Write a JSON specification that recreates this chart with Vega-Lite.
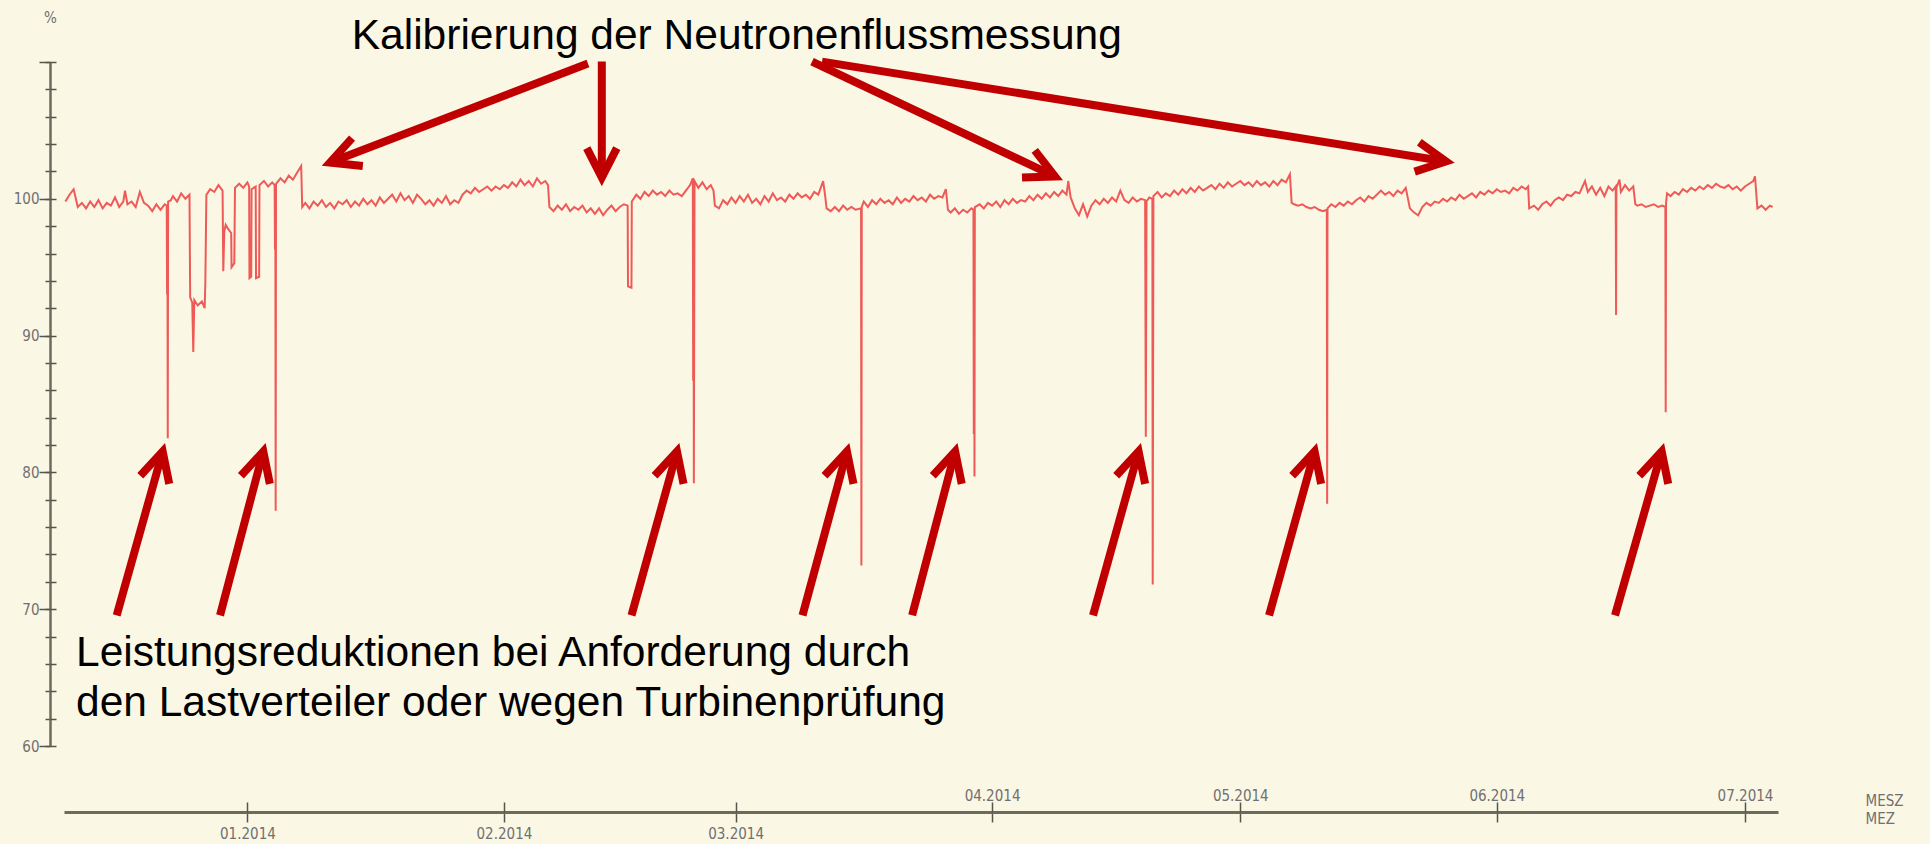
{
  "$schema": "https://vega.github.io/schema/vega-lite/v6.json",
  "width": 1714,
  "height": 684,
  "autosize": {"type": "none"},
  "padding": {"left": 64, "top": 62, "right": 152, "bottom": 98},
  "background": "#FBF7E5",
  "config": {
    "view": {"stroke": null},
    "axis": {
      "grid": false,
      "labelFont": "Liberation Sans Narrow, DejaVu Sans Condensed, sans-serif",
      "labelFontSize": 15,
      "labelColor": "#707070",
      "titleFont": "Liberation Sans Narrow, DejaVu Sans Condensed, sans-serif",
      "titleFontSize": 15,
      "titleFontWeight": "normal",
      "titleColor": "#707070",
      "domainColor": "#6b6b5e",
      "tickColor": "#55554a",
      "labelOverlap": false,
      "labelFlush": false
    }
  },
  "datasets": {
    "flux": [
      {"t":"2013-12-10T00:00","v":99.8},{"t":"2013-12-10T12:00","v":100.3},{"t":"2013-12-11T00:00","v":100.7},{"t":"2013-12-11T12:00","v":99.4},
      {"t":"2013-12-12T00:00","v":99.7},{"t":"2013-12-12T12:00","v":99.3},{"t":"2013-12-13T00:00","v":99.8},{"t":"2013-12-13T12:00","v":99.4},
      {"t":"2013-12-14T00:00","v":99.9},{"t":"2013-12-14T12:00","v":99.3},{"t":"2013-12-15T00:00","v":99.7},{"t":"2013-12-15T12:00","v":99.5},
      {"t":"2013-12-16T00:00","v":100.1},{"t":"2013-12-16T12:00","v":99.4},{"t":"2013-12-17T00:00","v":99.8},{"t":"2013-12-17T05:00","v":100.6},
      {"t":"2013-12-17T12:00","v":99.6},{"t":"2013-12-18T00:00","v":99.8},{"t":"2013-12-18T12:00","v":99.4},{"t":"2013-12-19T00:00","v":100.5},
      {"t":"2013-12-19T12:00","v":99.7},{"t":"2013-12-20T00:00","v":99.5},{"t":"2013-12-20T12:00","v":99.1},{"t":"2013-12-21T00:00","v":99.6},
      {"t":"2013-12-21T12:00","v":99.2},{"t":"2013-12-22T00:00","v":99.6},{"t":"2013-12-22T06:00","v":99.5},{"t":"2013-12-22T07:00","v":93.0},
      {"t":"2013-12-22T08:00","v":99.5},{"t":"2013-12-22T09:00","v":82.5},{"t":"2013-12-22T10:00","v":99.8},{"t":"2013-12-22T18:00","v":99.9},
      {"t":"2013-12-23T00:00","v":100.2},{"t":"2013-12-23T12:00","v":99.8},{"t":"2013-12-24T00:00","v":100.4},{"t":"2013-12-24T12:00","v":100.0},
      {"t":"2013-12-25T00:00","v":100.3},{"t":"2013-12-25T02:00","v":92.8},{"t":"2013-12-25T08:00","v":92.4},{"t":"2013-12-25T11:00","v":88.8},
      {"t":"2013-12-25T14:00","v":92.6},{"t":"2013-12-26T00:00","v":92.2},{"t":"2013-12-26T12:00","v":92.5},{"t":"2013-12-26T20:00","v":92.0},
      {"t":"2013-12-26T22:00","v":93.9},{"t":"2013-12-27T01:00","v":100.3},{"t":"2013-12-27T12:00","v":100.7},{"t":"2013-12-28T00:00","v":100.5},
      {"t":"2013-12-28T12:00","v":101.0},{"t":"2013-12-29T00:00","v":100.6},{"t":"2013-12-29T02:00","v":94.7},{"t":"2013-12-29T05:00","v":97.6},
      {"t":"2013-12-29T09:00","v":98.1},{"t":"2013-12-29T16:00","v":97.8},{"t":"2013-12-30T01:00","v":97.5},{"t":"2013-12-30T02:00","v":95.0},
      {"t":"2013-12-30T10:00","v":95.3},{"t":"2013-12-30T12:00","v":100.8},{"t":"2013-12-31T00:00","v":101.1},{"t":"2013-12-31T12:00","v":100.8},
      {"t":"2014-01-01T00:00","v":101.2},{"t":"2014-01-01T05:00","v":100.9},{"t":"2014-01-01T06:00","v":94.2},{"t":"2014-01-01T11:00","v":94.3},
      {"t":"2014-01-01T12:00","v":100.7},{"t":"2014-01-02T00:00","v":100.9},{"t":"2014-01-02T01:00","v":94.2},{"t":"2014-01-02T10:00","v":94.3},
      {"t":"2014-01-02T11:00","v":101.0},{"t":"2014-01-03T00:00","v":101.3},{"t":"2014-01-03T12:00","v":100.9},{"t":"2014-01-04T00:00","v":101.2},
      {"t":"2014-01-04T07:00","v":101.0},{"t":"2014-01-04T08:00","v":96.3},{"t":"2014-01-04T09:00","v":100.8},{"t":"2014-01-04T10:00","v":77.2},
      {"t":"2014-01-04T11:00","v":101.1},{"t":"2014-01-05T00:00","v":101.5},{"t":"2014-01-05T12:00","v":101.2},{"t":"2014-01-06T00:00","v":101.7},
      {"t":"2014-01-06T12:00","v":101.4},{"t":"2014-01-07T00:00","v":101.9},{"t":"2014-01-07T12:00","v":102.4},{"t":"2014-01-07T15:00","v":99.4},
      {"t":"2014-01-08T00:00","v":99.7},{"t":"2014-01-08T12:00","v":99.3},{"t":"2014-01-09T00:00","v":99.8},{"t":"2014-01-09T12:00","v":99.5},
      {"t":"2014-01-10T00:00","v":99.9},{"t":"2014-01-10T12:00","v":99.4},{"t":"2014-01-11T00:00","v":99.7},{"t":"2014-01-11T12:00","v":99.3},
      {"t":"2014-01-12T00:00","v":99.8},{"t":"2014-01-12T12:00","v":99.6},{"t":"2014-01-13T00:00","v":99.9},{"t":"2014-01-13T12:00","v":99.4},
      {"t":"2014-01-14T00:00","v":99.8},{"t":"2014-01-14T12:00","v":99.5},{"t":"2014-01-15T00:00","v":100.0},{"t":"2014-01-15T12:00","v":99.6},
      {"t":"2014-01-16T00:00","v":99.9},{"t":"2014-01-16T12:00","v":99.5},{"t":"2014-01-17T00:00","v":100.1},{"t":"2014-01-17T12:00","v":99.7},
      {"t":"2014-01-18T00:00","v":100.0},{"t":"2014-01-18T12:00","v":100.3},{"t":"2014-01-19T00:00","v":99.8},{"t":"2014-01-19T12:00","v":100.4},
      {"t":"2014-01-20T00:00","v":99.9},{"t":"2014-01-20T12:00","v":100.2},{"t":"2014-01-21T00:00","v":99.7},{"t":"2014-01-21T12:00","v":100.3},
      {"t":"2014-01-22T00:00","v":100.0},{"t":"2014-01-22T12:00","v":99.6},{"t":"2014-01-23T00:00","v":99.9},{"t":"2014-01-23T12:00","v":99.5},
      {"t":"2014-01-24T00:00","v":100.0},{"t":"2014-01-24T12:00","v":99.7},{"t":"2014-01-25T00:00","v":100.2},{"t":"2014-01-25T12:00","v":99.6},
      {"t":"2014-01-26T00:00","v":99.9},{"t":"2014-01-26T12:00","v":99.7},{"t":"2014-01-27T00:00","v":100.3},{"t":"2014-01-27T12:00","v":100.6},
      {"t":"2014-01-28T00:00","v":100.4},{"t":"2014-01-28T12:00","v":100.8},{"t":"2014-01-29T00:00","v":100.5},{"t":"2014-01-29T12:00","v":100.7},
      {"t":"2014-01-30T00:00","v":100.9},{"t":"2014-01-30T12:00","v":100.6},{"t":"2014-01-31T00:00","v":100.9},{"t":"2014-01-31T12:00","v":100.7},
      {"t":"2014-02-01T00:00","v":101.0},{"t":"2014-02-01T12:00","v":100.8},{"t":"2014-02-02T00:00","v":101.2},{"t":"2014-02-02T12:00","v":100.9},
      {"t":"2014-02-03T00:00","v":101.4},{"t":"2014-02-03T12:00","v":101.0},{"t":"2014-02-04T00:00","v":101.3},{"t":"2014-02-04T12:00","v":100.9},
      {"t":"2014-02-05T00:00","v":101.5},{"t":"2014-02-05T12:00","v":101.1},{"t":"2014-02-06T00:00","v":101.3},{"t":"2014-02-06T08:00","v":101.0},
      {"t":"2014-02-06T12:00","v":99.4},{"t":"2014-02-07T00:00","v":99.1},{"t":"2014-02-07T12:00","v":99.5},{"t":"2014-02-08T00:00","v":99.2},
      {"t":"2014-02-08T12:00","v":99.6},{"t":"2014-02-09T00:00","v":99.1},{"t":"2014-02-09T12:00","v":99.4},{"t":"2014-02-10T00:00","v":99.2},
      {"t":"2014-02-10T12:00","v":99.5},{"t":"2014-02-11T00:00","v":99.0},{"t":"2014-02-11T12:00","v":99.3},{"t":"2014-02-12T00:00","v":98.9},
      {"t":"2014-02-12T12:00","v":99.3},{"t":"2014-02-13T00:00","v":98.8},{"t":"2014-02-13T12:00","v":99.2},{"t":"2014-02-14T00:00","v":99.5},
      {"t":"2014-02-14T12:00","v":99.1},{"t":"2014-02-15T00:00","v":99.4},{"t":"2014-02-15T12:00","v":99.6},{"t":"2014-02-15T23:00","v":99.5},
      {"t":"2014-02-16T00:00","v":93.6},{"t":"2014-02-16T10:00","v":93.5},{"t":"2014-02-16T11:00","v":99.8},{"t":"2014-02-17T00:00","v":100.3},
      {"t":"2014-02-17T12:00","v":100.0},{"t":"2014-02-18T00:00","v":100.5},{"t":"2014-02-18T12:00","v":100.2},{"t":"2014-02-19T00:00","v":100.6},
      {"t":"2014-02-19T12:00","v":100.3},{"t":"2014-02-20T00:00","v":100.5},{"t":"2014-02-20T12:00","v":100.2},{"t":"2014-02-21T00:00","v":100.6},
      {"t":"2014-02-21T12:00","v":100.3},{"t":"2014-02-22T00:00","v":100.4},{"t":"2014-02-22T12:00","v":100.2},{"t":"2014-02-23T00:00","v":100.6},
      {"t":"2014-02-23T12:00","v":101.0},{"t":"2014-02-23T20:00","v":101.5},{"t":"2014-02-23T21:00","v":86.7},{"t":"2014-02-23T22:00","v":100.8},
      {"t":"2014-02-23T23:00","v":79.2},{"t":"2014-02-24T01:00","v":101.3},{"t":"2014-02-24T12:00","v":100.8},{"t":"2014-02-25T00:00","v":101.2},
      {"t":"2014-02-25T12:00","v":100.7},{"t":"2014-02-26T00:00","v":101.0},{"t":"2014-02-26T08:00","v":100.6},{"t":"2014-02-26T12:00","v":99.5},
      {"t":"2014-02-27T00:00","v":99.3},{"t":"2014-02-27T12:00","v":99.9},{"t":"2014-02-28T00:00","v":99.6},{"t":"2014-02-28T12:00","v":100.1},
      {"t":"2014-03-01T00:00","v":99.7},{"t":"2014-03-01T12:00","v":100.2},{"t":"2014-03-02T00:00","v":99.8},{"t":"2014-03-02T12:00","v":100.3},
      {"t":"2014-03-03T00:00","v":99.7},{"t":"2014-03-03T12:00","v":100.0},{"t":"2014-03-04T00:00","v":99.6},{"t":"2014-03-04T12:00","v":100.2},
      {"t":"2014-03-05T00:00","v":99.8},{"t":"2014-03-05T12:00","v":100.4},{"t":"2014-03-06T00:00","v":99.9},{"t":"2014-03-06T12:00","v":100.1},
      {"t":"2014-03-07T00:00","v":99.8},{"t":"2014-03-07T12:00","v":100.3},{"t":"2014-03-08T00:00","v":100.0},{"t":"2014-03-08T12:00","v":100.4},
      {"t":"2014-03-09T00:00","v":100.1},{"t":"2014-03-09T12:00","v":100.3},{"t":"2014-03-10T00:00","v":100.0},{"t":"2014-03-10T12:00","v":100.5},
      {"t":"2014-03-11T00:00","v":100.3},{"t":"2014-03-11T14:00","v":101.3},{"t":"2014-03-11T20:00","v":100.2},{"t":"2014-03-12T00:00","v":99.3},
      {"t":"2014-03-12T12:00","v":99.1},{"t":"2014-03-13T00:00","v":99.4},{"t":"2014-03-13T12:00","v":99.1},{"t":"2014-03-14T00:00","v":99.5},
      {"t":"2014-03-14T12:00","v":99.2},{"t":"2014-03-15T00:00","v":99.4},{"t":"2014-03-15T12:00","v":99.2},{"t":"2014-03-16T04:00","v":99.3},
      {"t":"2014-03-16T05:00","v":73.2},{"t":"2014-03-16T06:00","v":99.4},{"t":"2014-03-16T12:00","v":99.8},{"t":"2014-03-17T00:00","v":99.4},
      {"t":"2014-03-17T12:00","v":99.9},{"t":"2014-03-18T00:00","v":99.6},{"t":"2014-03-18T12:00","v":100.0},{"t":"2014-03-19T00:00","v":99.7},
      {"t":"2014-03-19T12:00","v":99.9},{"t":"2014-03-20T00:00","v":99.6},{"t":"2014-03-20T12:00","v":100.1},{"t":"2014-03-21T00:00","v":99.7},
      {"t":"2014-03-21T12:00","v":100.0},{"t":"2014-03-22T00:00","v":99.8},{"t":"2014-03-22T12:00","v":100.2},{"t":"2014-03-23T00:00","v":99.9},
      {"t":"2014-03-23T12:00","v":100.1},{"t":"2014-03-24T00:00","v":99.8},{"t":"2014-03-24T12:00","v":100.3},{"t":"2014-03-25T00:00","v":100.0},
      {"t":"2014-03-25T12:00","v":100.2},{"t":"2014-03-26T00:00","v":100.1},{"t":"2014-03-26T10:00","v":100.7},{"t":"2014-03-26T16:00","v":99.2},
      {"t":"2014-03-27T00:00","v":99.0},{"t":"2014-03-27T12:00","v":99.3},{"t":"2014-03-28T00:00","v":98.9},{"t":"2014-03-28T12:00","v":99.2},
      {"t":"2014-03-29T00:00","v":99.0},{"t":"2014-03-29T12:00","v":99.3},{"t":"2014-03-29T18:00","v":99.2},{"t":"2014-03-29T19:00","v":82.8},
      {"t":"2014-03-29T20:00","v":99.1},{"t":"2014-03-29T21:00","v":79.7},{"t":"2014-03-29T22:00","v":99.4},{"t":"2014-03-30T12:00","v":99.6},
      {"t":"2014-03-31T00:00","v":99.3},{"t":"2014-03-31T12:00","v":99.7},{"t":"2014-04-01T00:00","v":99.5},{"t":"2014-04-01T12:00","v":99.8},
      {"t":"2014-04-02T00:00","v":99.4},{"t":"2014-04-02T12:00","v":99.9},{"t":"2014-04-03T00:00","v":99.6},{"t":"2014-04-03T12:00","v":100.0},
      {"t":"2014-04-04T00:00","v":99.7},{"t":"2014-04-04T12:00","v":99.9},{"t":"2014-04-05T00:00","v":99.8},{"t":"2014-04-05T12:00","v":100.2},
      {"t":"2014-04-06T00:00","v":99.9},{"t":"2014-04-06T12:00","v":100.3},{"t":"2014-04-07T00:00","v":100.0},{"t":"2014-04-07T12:00","v":100.4},
      {"t":"2014-04-08T00:00","v":100.1},{"t":"2014-04-08T12:00","v":100.5},{"t":"2014-04-09T00:00","v":100.2},{"t":"2014-04-09T12:00","v":100.6},
      {"t":"2014-04-10T00:00","v":100.3},{"t":"2014-04-10T05:00","v":101.3},{"t":"2014-04-10T12:00","v":100.1},{"t":"2014-04-11T00:00","v":99.3},
      {"t":"2014-04-11T12:00","v":98.8},{"t":"2014-04-12T00:00","v":99.6},{"t":"2014-04-12T12:00","v":98.7},{"t":"2014-04-13T00:00","v":99.5},
      {"t":"2014-04-13T12:00","v":99.9},{"t":"2014-04-14T00:00","v":99.6},{"t":"2014-04-14T12:00","v":100.0},{"t":"2014-04-15T00:00","v":99.7},
      {"t":"2014-04-15T12:00","v":100.1},{"t":"2014-04-16T00:00","v":99.8},{"t":"2014-04-16T12:00","v":100.6},{"t":"2014-04-17T00:00","v":99.9},
      {"t":"2014-04-17T12:00","v":99.7},{"t":"2014-04-18T00:00","v":100.1},{"t":"2014-04-18T12:00","v":99.8},{"t":"2014-04-19T00:00","v":100.0},
      {"t":"2014-04-19T12:00","v":99.9},{"t":"2014-04-19T14:00","v":82.6},{"t":"2014-04-19T16:00","v":99.8},{"t":"2014-04-20T00:00","v":100.1},
      {"t":"2014-04-20T09:00","v":100.0},{"t":"2014-04-20T10:00","v":71.8},{"t":"2014-04-20T12:00","v":100.2},{"t":"2014-04-21T00:00","v":100.5},
      {"t":"2014-04-21T12:00","v":100.1},{"t":"2014-04-22T00:00","v":100.4},{"t":"2014-04-22T12:00","v":100.2},{"t":"2014-04-23T00:00","v":100.6},
      {"t":"2014-04-23T12:00","v":100.3},{"t":"2014-04-24T00:00","v":100.7},{"t":"2014-04-24T12:00","v":100.4},{"t":"2014-04-25T00:00","v":100.8},
      {"t":"2014-04-25T12:00","v":100.5},{"t":"2014-04-26T00:00","v":100.9},{"t":"2014-04-26T12:00","v":100.6},{"t":"2014-04-27T00:00","v":100.8},
      {"t":"2014-04-27T12:00","v":101.0},{"t":"2014-04-28T00:00","v":100.7},{"t":"2014-04-28T12:00","v":101.1},{"t":"2014-04-29T00:00","v":100.8},
      {"t":"2014-04-29T12:00","v":101.2},{"t":"2014-04-30T00:00","v":100.9},{"t":"2014-04-30T12:00","v":101.1},{"t":"2014-05-01T00:00","v":101.3},
      {"t":"2014-05-01T12:00","v":101.0},{"t":"2014-05-02T00:00","v":101.2},{"t":"2014-05-02T12:00","v":100.9},{"t":"2014-05-03T00:00","v":101.3},
      {"t":"2014-05-03T12:00","v":101.0},{"t":"2014-05-04T00:00","v":101.2},{"t":"2014-05-04T12:00","v":100.9},{"t":"2014-05-05T00:00","v":101.3},
      {"t":"2014-05-05T12:00","v":101.0},{"t":"2014-05-06T00:00","v":101.4},{"t":"2014-05-06T12:00","v":101.2},{"t":"2014-05-07T00:00","v":101.8},
      {"t":"2014-05-07T05:00","v":99.7},{"t":"2014-05-07T12:00","v":99.6},{"t":"2014-05-08T00:00","v":99.5},{"t":"2014-05-08T12:00","v":99.6},
      {"t":"2014-05-09T00:00","v":99.4},{"t":"2014-05-09T12:00","v":99.3},{"t":"2014-05-10T00:00","v":99.4},{"t":"2014-05-10T12:00","v":99.2},
      {"t":"2014-05-11T00:00","v":99.1},{"t":"2014-05-11T11:00","v":99.2},{"t":"2014-05-11T12:00","v":77.7},{"t":"2014-05-11T13:00","v":99.3},
      {"t":"2014-05-12T00:00","v":99.6},{"t":"2014-05-12T12:00","v":99.4},{"t":"2014-05-13T00:00","v":99.7},{"t":"2014-05-13T12:00","v":99.5},
      {"t":"2014-05-14T00:00","v":99.8},{"t":"2014-05-14T12:00","v":99.6},{"t":"2014-05-15T00:00","v":99.9},{"t":"2014-05-15T12:00","v":100.1},
      {"t":"2014-05-16T00:00","v":99.8},{"t":"2014-05-16T12:00","v":100.2},{"t":"2014-05-17T00:00","v":100.0},{"t":"2014-05-17T12:00","v":100.3},
      {"t":"2014-05-18T00:00","v":100.6},{"t":"2014-05-18T12:00","v":100.3},{"t":"2014-05-19T00:00","v":100.5},{"t":"2014-05-19T12:00","v":100.2},
      {"t":"2014-05-20T00:00","v":100.6},{"t":"2014-05-20T12:00","v":100.4},{"t":"2014-05-21T00:00","v":100.8},{"t":"2014-05-21T12:00","v":99.3},
      {"t":"2014-05-22T00:00","v":99.0},{"t":"2014-05-22T12:00","v":98.8},{"t":"2014-05-23T00:00","v":99.4},{"t":"2014-05-23T12:00","v":99.7},
      {"t":"2014-05-24T00:00","v":99.5},{"t":"2014-05-24T12:00","v":99.8},{"t":"2014-05-25T00:00","v":99.7},{"t":"2014-05-25T12:00","v":100.0},
      {"t":"2014-05-26T00:00","v":99.8},{"t":"2014-05-26T12:00","v":100.1},{"t":"2014-05-27T00:00","v":99.9},{"t":"2014-05-27T12:00","v":100.3},
      {"t":"2014-05-28T00:00","v":100.0},{"t":"2014-05-28T12:00","v":100.2},{"t":"2014-05-29T00:00","v":100.4},{"t":"2014-05-29T12:00","v":100.1},
      {"t":"2014-05-30T00:00","v":100.5},{"t":"2014-05-30T12:00","v":100.3},{"t":"2014-05-31T00:00","v":100.6},{"t":"2014-05-31T12:00","v":100.4},
      {"t":"2014-06-01T00:00","v":100.7},{"t":"2014-06-01T12:00","v":100.5},{"t":"2014-06-02T00:00","v":100.6},{"t":"2014-06-02T12:00","v":100.4},
      {"t":"2014-06-03T00:00","v":100.8},{"t":"2014-06-03T12:00","v":100.6},{"t":"2014-06-04T00:00","v":100.9},{"t":"2014-06-04T12:00","v":100.7},
      {"t":"2014-06-04T19:00","v":100.9},{"t":"2014-06-04T22:00","v":99.3},{"t":"2014-06-05T12:00","v":99.5},{"t":"2014-06-06T00:00","v":99.2},
      {"t":"2014-06-06T12:00","v":99.6},{"t":"2014-06-07T00:00","v":99.8},{"t":"2014-06-07T12:00","v":99.5},{"t":"2014-06-08T00:00","v":99.9},
      {"t":"2014-06-08T12:00","v":100.1},{"t":"2014-06-09T00:00","v":99.9},{"t":"2014-06-09T12:00","v":100.3},{"t":"2014-06-10T00:00","v":100.2},
      {"t":"2014-06-10T12:00","v":100.5},{"t":"2014-06-11T00:00","v":100.4},{"t":"2014-06-11T16:00","v":101.3},{"t":"2014-06-12T00:00","v":100.5},
      {"t":"2014-06-12T12:00","v":100.9},{"t":"2014-06-13T00:00","v":100.3},{"t":"2014-06-13T12:00","v":100.8},{"t":"2014-06-14T00:00","v":100.2},
      {"t":"2014-06-14T12:00","v":100.9},{"t":"2014-06-15T00:00","v":100.6},{"t":"2014-06-15T09:00","v":100.9},{"t":"2014-06-15T10:00","v":91.5},
      {"t":"2014-06-15T11:00","v":100.8},{"t":"2014-06-15T20:00","v":101.4},{"t":"2014-06-16T00:00","v":100.5},{"t":"2014-06-16T12:00","v":101.0},
      {"t":"2014-06-17T00:00","v":100.6},{"t":"2014-06-17T12:00","v":100.9},{"t":"2014-06-17T18:00","v":99.6},{"t":"2014-06-18T00:00","v":99.5},
      {"t":"2014-06-18T12:00","v":99.6},{"t":"2014-06-19T00:00","v":99.4},{"t":"2014-06-19T12:00","v":99.5},{"t":"2014-06-20T00:00","v":99.6},
      {"t":"2014-06-20T12:00","v":99.4},{"t":"2014-06-21T00:00","v":99.5},{"t":"2014-06-21T09:00","v":99.4},{"t":"2014-06-21T10:00","v":84.4},
      {"t":"2014-06-21T11:00","v":99.7},{"t":"2014-06-21T14:00","v":100.4},{"t":"2014-06-22T00:00","v":100.2},{"t":"2014-06-22T12:00","v":100.5},
      {"t":"2014-06-23T00:00","v":100.3},{"t":"2014-06-23T12:00","v":100.7},{"t":"2014-06-24T00:00","v":100.5},{"t":"2014-06-24T12:00","v":100.8},
      {"t":"2014-06-25T00:00","v":100.6},{"t":"2014-06-25T12:00","v":100.9},{"t":"2014-06-26T00:00","v":100.7},{"t":"2014-06-26T12:00","v":101.0},
      {"t":"2014-06-27T00:00","v":100.8},{"t":"2014-06-27T12:00","v":101.1},{"t":"2014-06-28T00:00","v":100.9},{"t":"2014-06-28T12:00","v":100.8},
      {"t":"2014-06-29T00:00","v":101.0},{"t":"2014-06-29T12:00","v":100.7},{"t":"2014-06-30T00:00","v":100.9},{"t":"2014-06-30T12:00","v":100.6},
      {"t":"2014-07-01T00:00","v":100.9},{"t":"2014-07-01T12:00","v":101.1},{"t":"2014-07-02T00:00","v":101.3},{"t":"2014-07-02T05:00","v":101.65},
      {"t":"2014-07-02T12:00","v":99.3},{"t":"2014-07-03T00:00","v":99.5},{"t":"2014-07-03T12:00","v":99.2},{"t":"2014-07-04T00:00","v":99.5},
      {"t":"2014-07-04T08:00","v":99.4}
    ],
    "shafts": [
      {"id":"A","t":"2014-02-11T03:50","v":109.89,"t2":"2014-01-10T23:30","v2":102.65},
      {"id":"B","t":"2014-02-12T20:00","v":110.03,"t2":"2014-02-12T20:00","v2":101.56},
      {"id":"C","t":"2014-03-10T05:46","v":110.03,"t2":"2014-04-08T14:38","v2":101.63},
      {"id":"D","t":"2014-03-11T10:48","v":110.03,"t2":"2014-05-25T20:38","v2":102.73},
      {"id":"1","t":"2013-12-16T04:48","v":69.55,"t2":"2013-12-21T18:14","v2":81.53},
      {"id":"2","t":"2013-12-28T16:34","v":69.55,"t2":"2014-01-02T22:05","v2":81.53},
      {"id":"3","t":"2014-02-16T10:05","v":69.55,"t2":"2014-02-21T22:05","v2":81.53},
      {"id":"4","t":"2014-03-09T02:10","v":69.55,"t2":"2014-03-14T11:02","v2":81.53},
      {"id":"5","t":"2014-03-22T08:10","v":69.55,"t2":"2014-03-27T12:58","v2":81.53},
      {"id":"6","t":"2014-04-13T04:48","v":69.55,"t2":"2014-04-18T17:02","v2":81.53},
      {"id":"7","t":"2014-05-04T11:31","v":69.55,"t2":"2014-05-09T23:31","v2":81.53},
      {"id":"8","t":"2014-06-15T06:58","v":69.55,"t2":"2014-06-20T22:19","v2":81.53}
    ],
    "heads": [
      {"id":"A","k":1,"t":"2014-01-14T22:48","v":102.40},{"id":"A","k":2,"t":"2014-01-10T23:30","v":102.65},{"id":"A","k":3,"t":"2014-01-13T15:36","v":104.44},
      {"id":"B","k":1,"t":"2014-02-14T15:30","v":103.70},{"id":"B","k":2,"t":"2014-02-12T20:00","v":101.56},{"id":"B","k":3,"t":"2014-02-11T00:30","v":103.70},
      {"id":"C","k":1,"t":"2014-04-06T03:50","v":103.54},{"id":"C","k":2,"t":"2014-04-08T14:38","v":101.63},{"id":"C","k":3,"t":"2014-04-04T14:53","v":101.56},
      {"id":"D","k":1,"t":"2014-05-22T15:22","v":104.14},{"id":"D","k":2,"t":"2014-05-25T20:38","v":102.73},{"id":"D","k":3,"t":"2014-05-22T01:41","v":101.99},
      {"id":"1","k":1,"t":"2013-12-19T01:14","v":79.75},{"id":"1","k":2,"t":"2013-12-21T18:14","v":81.53},{"id":"1","k":3,"t":"2013-12-22T13:14","v":79.16},
      {"id":"2","k":1,"t":"2013-12-31T05:05","v":79.75},{"id":"2","k":2,"t":"2014-01-02T22:05","v":81.53},{"id":"2","k":3,"t":"2014-01-03T17:05","v":79.16},
      {"id":"3","k":1,"t":"2014-02-19T05:05","v":79.75},{"id":"3","k":2,"t":"2014-02-21T22:05","v":81.53},{"id":"3","k":3,"t":"2014-02-22T17:05","v":79.16},
      {"id":"4","k":1,"t":"2014-03-11T18:02","v":79.75},{"id":"4","k":2,"t":"2014-03-14T11:02","v":81.53},{"id":"4","k":3,"t":"2014-03-15T06:02","v":79.16},
      {"id":"5","k":1,"t":"2014-03-24T19:58","v":79.75},{"id":"5","k":2,"t":"2014-03-27T12:58","v":81.53},{"id":"5","k":3,"t":"2014-03-28T07:58","v":79.16},
      {"id":"6","k":1,"t":"2014-04-16T00:02","v":79.75},{"id":"6","k":2,"t":"2014-04-18T17:02","v":81.53},{"id":"6","k":3,"t":"2014-04-19T12:02","v":79.16},
      {"id":"7","k":1,"t":"2014-05-07T06:31","v":79.75},{"id":"7","k":2,"t":"2014-05-09T23:31","v":81.53},{"id":"7","k":3,"t":"2014-05-10T18:31","v":79.16},
      {"id":"8","k":1,"t":"2014-06-18T05:19","v":79.75},{"id":"8","k":2,"t":"2014-06-20T22:19","v":81.53},{"id":"8","k":3,"t":"2014-06-21T17:19","v":79.16}
    ]
  },
  "layer": [
    {
      "data": {"name": "flux"},
      "mark": {"type": "line", "color": "#EE5A57", "strokeWidth": 2},
      "encoding": {
        "x": {
          "field": "t", "type": "temporal",
          "scale": {"domain": [{"year": 2013, "month": 12, "date": 9, "hours": 20}, {"year": 2014, "month": 7, "date": 4, "hours": 23, "minutes": 45}]},
          "axis": {
            "orient": "bottom",
            "values": [{"year": 2014, "month": 1, "date": 1}, {"year": 2014, "month": 2, "date": 1}, {"year": 2014, "month": 3, "date": 1}, {"year": 2014, "month": 4, "date": 1}, {"year": 2014, "month": 5, "date": 1}, {"year": 2014, "month": 6, "date": 1}, {"year": 2014, "month": 7, "date": 1}],
            "format": "%m.%Y",
            "labelExpr": "month(datum.value) < 3 ? datum.label : ''",
            "tickSize": 10, "tickWidth": 1.5, "labelPadding": 4, "labelBaseline": "top",
            "offset": 66, "domainWidth": 3, "title": null
          }
        },
        "y": {
          "field": "v", "type": "quantitative",
          "scale": {"domain": [60, 110], "zero": false, "nice": false},
          "axis": {
            "orient": "left", "offset": 14,
            "values": [60, 62, 64, 66, 68, 70, 72, 74, 76, 78, 80, 82, 84, 86, 88, 90, 92, 94, 96, 98, 100, 102, 104, 106, 108, 110],
            "labelExpr": "datum.value % 10 == 0 && datum.value < 110 ? datum.label : ''",
            "tickSize": 5, "tickWidth": 1.5, "labelPadding": 6, "labelBaseline": "middle",
            "domainWidth": 2.5,
            "title": "%", "titleAngle": 0, "titleX": 0, "titleY": -45, "titleAlign": "center", "titleBaseline": "middle"
          }
        }
      }
    },
    {
      "data": {"name": "shafts"},
      "mark": {"type": "rule", "color": "#C00000", "strokeWidth": 8, "strokeCap": "butt"},
      "encoding": {
        "x": {
          "field": "t", "type": "temporal",
          "scale": {"domain": [{"year": 2013, "month": 12, "date": 9, "hours": 20}, {"year": 2014, "month": 7, "date": 4, "hours": 23, "minutes": 45}]},
          "axis": {
            "orient": "bottom",
            "values": [{"year": 2014, "month": 1, "date": 1}, {"year": 2014, "month": 2, "date": 1}, {"year": 2014, "month": 3, "date": 1}, {"year": 2014, "month": 4, "date": 1}, {"year": 2014, "month": 5, "date": 1}, {"year": 2014, "month": 6, "date": 1}, {"year": 2014, "month": 7, "date": 1}],
            "format": "%m.%Y",
            "labelExpr": "month(datum.value) >= 3 ? datum.label : ''",
            "tickSize": -10, "tickWidth": 1.5, "labelPadding": -2, "labelBaseline": "alphabetic",
            "offset": 66, "domain": false,
            "title": ["MESZ", "MEZ"], "titleX": 1801, "titleY": -12, "titleAlign": "left", "titleBaseline": "middle", "titleLineHeight": 18
          }
        },
        "x2": {"field": "t2"},
        "y": {
          "field": "v", "type": "quantitative",
          "scale": {"domain": [60, 110], "zero": false, "nice": false},
          "axis": {
            "orient": "left", "offset": 14,
            "values": [60, 70, 80, 90, 100, 110],
            "tickSize": 11, "tickWidth": 1.5, "labels": false, "domain": false, "title": null
          }
        },
        "y2": {"field": "v2"}
      }
    },
    {
      "data": {"name": "heads"},
      "mark": {"type": "line", "color": "#C00000", "strokeWidth": 8, "strokeJoin": "miter", "strokeMiterLimit": 10, "strokeCap": "butt"},
      "encoding": {
        "x": {
          "field": "t", "type": "temporal",
          "scale": {"domain": [{"year": 2013, "month": 12, "date": 9, "hours": 20}, {"year": 2014, "month": 7, "date": 4, "hours": 23, "minutes": 45}]},
          "axis": null
        },
        "y": {
          "field": "v", "type": "quantitative",
          "scale": {"domain": [60, 110], "zero": false, "nice": false},
          "axis": {
            "orient": "left", "offset": 14,
            "values": [60, 62, 64, 66, 68, 70, 72, 74, 76, 78, 80, 82, 84, 86, 88, 90, 92, 94, 96, 98, 100, 102, 104, 106, 108, 110],
            "tickSize": -6, "tickWidth": 1.5, "labels": false, "domain": false, "title": null
          }
        },
        "detail": {"field": "id"},
        "order": {"field": "k", "type": "quantitative"}
      }
    },
    {
      "data": {"values": [{"s": "Kalibrierung der Neutronenflussmessung", "t": "2014-03-01T03:36", "v": 110.98}]},
      "mark": {"type": "text", "font": "Liberation Sans, Arial, sans-serif", "fontSize": 42.5, "color": "#000000", "align": "center", "baseline": "alphabetic"},
      "encoding": {
        "x": {"field": "t", "type": "temporal", "scale": {"domain": [{"year": 2013, "month": 12, "date": 9, "hours": 20}, {"year": 2014, "month": 7, "date": 4, "hours": 23, "minutes": 45}]}, "axis": null},
        "y": {"field": "v", "type": "quantitative", "scale": {"domain": [60, 110], "zero": false, "nice": false}, "axis": null},
        "text": {"field": "s"}
      }
    },
    {
      "data": {"values": [
        {"s": "Leistungsreduktionen bei Anforderung durch", "t": "2013-12-11T06:49", "v": 65.85},
        {"s": "den Lastverteiler oder wegen Turbinenprüfung", "t": "2013-12-11T06:49", "v": 62.19}
      ]},
      "mark": {"type": "text", "font": "Liberation Sans, Arial, sans-serif", "fontSize": 42.5, "color": "#000000", "align": "left", "baseline": "alphabetic"},
      "encoding": {
        "x": {"field": "t", "type": "temporal", "scale": {"domain": [{"year": 2013, "month": 12, "date": 9, "hours": 20}, {"year": 2014, "month": 7, "date": 4, "hours": 23, "minutes": 45}]}, "axis": null},
        "y": {"field": "v", "type": "quantitative", "scale": {"domain": [60, 110], "zero": false, "nice": false}, "axis": null},
        "text": {"field": "s"}
      }
    }
  ],
  "resolve": {"axis": {"x": "independent", "y": "independent"}}
}
